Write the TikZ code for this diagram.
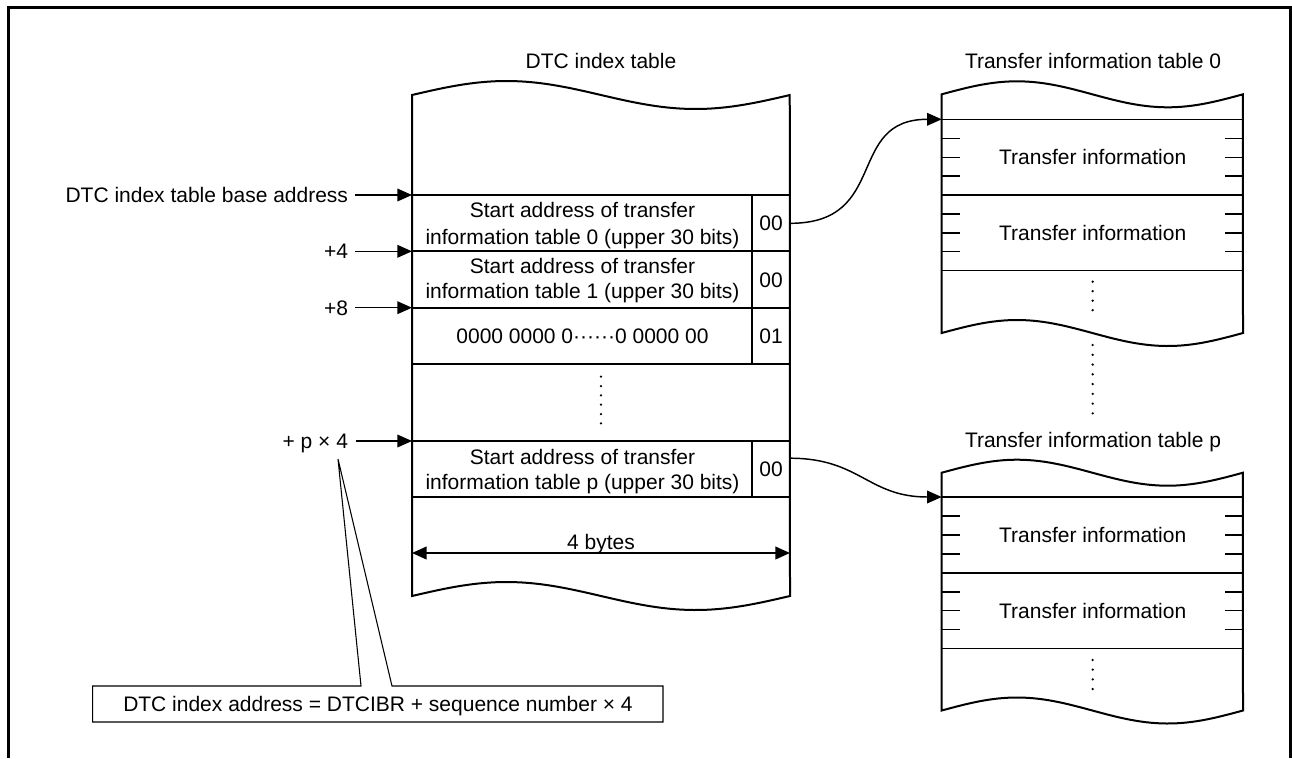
\documentclass[tikz,border=0pt]{standalone}
\usepackage{fontspec}
\setmainfont{Liberation Sans}
\usetikzlibrary{arrows.meta}
\begin{document}
\begin{tikzpicture}[x=0.75pt,y=-0.75pt,
  txt/.style={inner sep=0pt, text height=11.25pt, text depth=0pt, font=\fontsize{15.75pt}{19pt}\selectfont},
  tbl/.style={line width=1.5pt},
  row/.style={line width=1pt},
  tip/.style={Triangle[length=11pt,width=9.5pt]},
  arr/.style={line width=1.1pt, -{Triangle[length=11pt,width=9.5pt]}},
  callout/.style={line width=0.8pt}
]
\useasboundingbox (0,0) rectangle (1292,758);
% outer frame (open at bottom)
\draw[line width=2.25pt] (8.5,758) -- (8.5,7) -- (1290.5,7) -- (1290.5,758);

% ---------------- DTC index table ----------------
\node[txt] (t1) at (601,60.8) {DTC index table};
\draw[tbl] (412,596) -- plot[domain=0:1,samples=60] ({412+378*\x},{95-14*sin(360*\x)})
  -- plot[domain=1:0,samples=60] ({412+378*\x},{596-14*sin(360*\x)}) -- cycle;
\foreach \yy in {195,251.3,307.7,364,441,497} \draw[tbl] (412,\yy) -- (790,\yy);
\draw[tbl] (752,195) -- (752,364);
\draw[tbl] (752,441) -- (752,497);

\node[txt] (r0a) at (582.5,210) {Start address of transfer};
\node[txt] (r0b) at (582.5,236.7) {information table 0 (upper 30 bits)};
\node[txt, minimum width=28.5pt] (z0) at (771,223.3) {00};
\node[txt] (r1a) at (582.5,265.8) {Start address of transfer};
\node[txt] (r1b) at (582.5,290.8) {information table 1 (upper 30 bits)};
\node[txt, minimum width=28.5pt] (z1) at (771,279.5) {00};
\node[txt] (r2) at (582.5,335.8) {0000 0000 0······0 0000 00};
\node[txt, minimum width=28.5pt] (z2) at (771,335.8) {01};
\node[txt] (rpa) at (582.5,456.7) {Start address of transfer};
\node[txt] (rpb) at (582.5,481.7) {information table p (upper 30 bits)};
\node[txt, minimum width=28.5pt] (zp) at (771,469.2) {00};

\foreach \i in {0,...,5} \fill (601,376.7+9.33*\i) circle (0.95pt);

% 4 bytes
\coordinate (bl) at (412,553);
\coordinate (br) at (790,553);
\draw[line width=1.5pt, {Triangle[length=11pt,width=9.5pt]}-{Triangle[length=11pt,width=9.5pt]}] (bl) -- (br);
\node[txt] (fb) at (601,541.7) {4 bytes};

% left labels and arrows
\coordinate (a0) at (412,195);
\coordinate (a1) at (412,251.3);
\coordinate (a2) at (412,307.7);
\coordinate (ap) at (412,441);
\node[txt, anchor=east] (l0) at (348.3,195) {DTC index table base address};
\node[txt, anchor=east] (l1) at (348.3,251.3) {+4};
\node[txt, anchor=east] (l2) at (348.3,307.7) {+8};
\node[txt, anchor=east] (lp) at (348.3,441) {+ p × 4};
\draw[arr] ([xshift=5.25pt]l0.east) -- (a0);
\draw[arr] ([xshift=5.25pt]l1.east) -- (a1);
\draw[arr] ([xshift=5.25pt]l2.east) -- (a2);
\draw[arr] ([xshift=5.5pt]lp.east) -- (ap);

% callout
\draw[callout] (92.7,686) -- (361,686) -- (338,459) -- (392,686) -- (663,686) -- (663,722) -- (92.7,722) -- cycle;
\node[txt] (cl) at (378,704) {DTC index address = DTCIBR + sequence number × 4};

% ---------------- Transfer information table 0 ----------------
\node[txt] (t2) at (1093,60.8) {Transfer information table 0};
\draw[tbl] (941.7,333) -- plot[domain=0:1,samples=60] ({941.7+301.3*\x},{94.3-13*sin(360*\x)})
  -- plot[domain=1:0,samples=60] ({941.7+301.3*\x},{333-13*sin(360*\x)}) -- cycle;
\foreach \yy in {119.3,195,270.7} \draw[row] (941.7,\yy) -- (1243,\yy);
\foreach \yy in {138.2,157.2,176.1,214,232.9,251.8} {
  \draw[row] (941.7,\yy) -- (960,\yy);
  \draw[row] (1225,\yy) -- (1243,\yy);
}
\node[txt] (i00) at (1092.7,157.2) {Transfer information};
\node[txt] (i01) at (1092.7,232.9) {Transfer information};
\foreach \i in {0,...,3} \fill (1092.7,281.7+9.5*\i) circle (0.95pt);

% dots between tables
\foreach \i in {0,...,7} \fill (1092.7,345+9.76*\i) circle (0.95pt);

% ---------------- Transfer information table p ----------------
\node[txt] (t3) at (1093,439.5) {Transfer information table p};
\draw[tbl] (941.7,710.5) -- plot[domain=0:1,samples=60] ({941.7+301.3*\x},{472.7-13*sin(360*\x)})
  -- plot[domain=1:0,samples=60] ({941.7+301.3*\x},{710.5-13*sin(360*\x)}) -- cycle;
\foreach \yy in {497,573,648.5} \draw[row] (941.7,\yy) -- (1243,\yy);
\foreach \yy in {516,535,554,591.9,610.8,629.6} {
  \draw[row] (941.7,\yy) -- (960,\yy);
  \draw[row] (1225,\yy) -- (1243,\yy);
}
\node[txt] (ip0) at (1092.7,535) {Transfer information};
\node[txt] (ip1) at (1092.7,610.7) {Transfer information};
\foreach \i in {0,...,3} \fill (1092.7,660+9.67*\i) circle (0.95pt);

% connectors
\coordinate (t0in) at (941.7,119.3);
\coordinate (tpin) at (941.7,497);
\draw[arr] (z0.east) .. controls (890,223.3) and (845,119.3) .. (t0in);
\draw[arr] ([yshift=8.25pt]zp.east) .. controls (860,458.3) and (868,497) .. (tpin);
\end{tikzpicture}
\end{document}
